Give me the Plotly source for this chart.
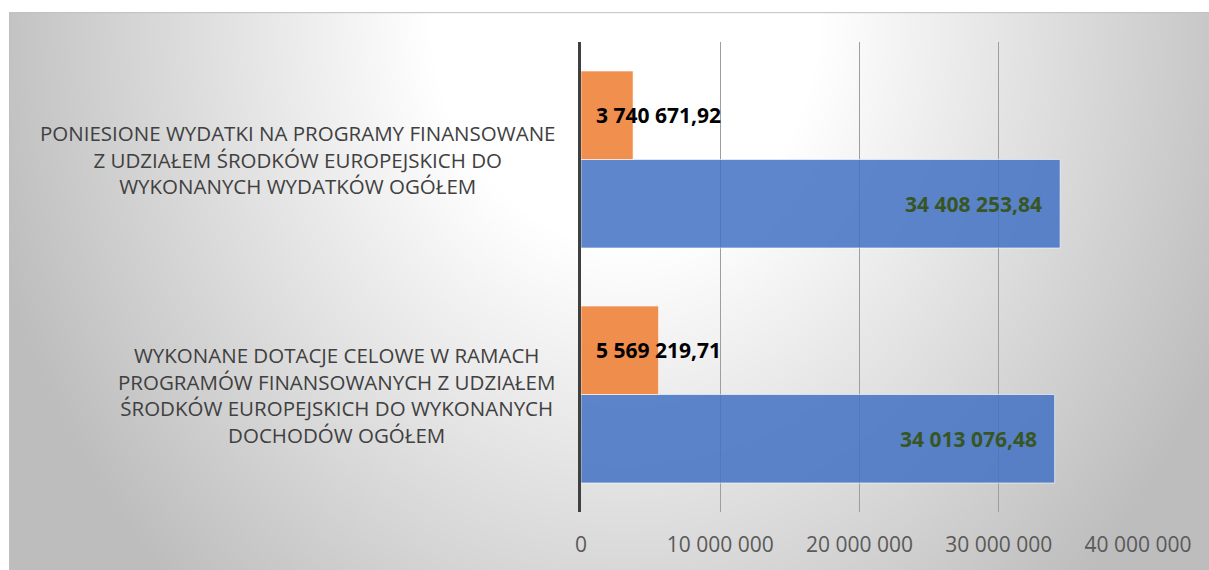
import base64
import struct
import zlib

import numpy as np
import plotly.graph_objects as go

# ---------------- data ----------------
categories = ["dotacje", "wydatki"]  # bottom -> top
category_labels = [
    "WYKONANE DOTACJE CELOWE W RAMACH<br>PROGRAMÓW FINANSOWANYCH Z UDZIAŁEM<br>ŚRODKÓW EUROPEJSKICH DO WYKONANYCH<br>DOCHODÓW OGÓŁEM",
    "PONIESIONE WYDATKI NA PROGRAMY FINANSOWANE<br>Z UDZIAŁEM ŚRODKÓW EUROPEJSKICH DO<br>WYKONANYCH WYDATKÓW OGÓŁEM",
]
total_values = [34013076.48, 34408253.84]   # blue
eu_values = [5569219.71, 3740671.92]        # orange
tick_values = [0, 10000000, 20000000, 30000000, 40000000]
tick_labels = ["0", "10 000 000", "20 000 000", "30 000 000", "40 000 000"]


def fmt(v):
    s = f"{v:,.2f}"
    return s.replace(",", " ").replace(".", ",")


# ---------------- geometry ----------------
W_FIG, H_FIG = 1209, 570
L, R, T, B = 581, 1138, 42, 515
PW, PH = R - L, B - T


def px2x(p):
    return (p - L) / PW


def py2y(p):
    return (B - p) / PH


# ---------------- background gradient (PNG data URI) ----------------
x0, y0, x1, y1 = 9, 12, 1215, 576
iw, ih = 603, 282
xs = x0 + (np.arange(iw) + 0.5) * (x1 - x0) / iw
ys = y0 + (np.arange(ih) + 0.5) * (y1 - y0) / ih
X, Y = np.meshgrid(xs, ys)
t = np.sqrt(((X - 625) / 600.0) ** 2 + ((Y - 12) / 720.0) ** 2)
g = 255 - np.clip((t - 0.33) / 0.67, 0, 1.15) * 57
img = np.clip(g, 0, 255).astype(np.uint8)


def png_gray(arr):
    h, w = arr.shape
    raw = b"".join(b"\x00" + arr[r].tobytes() for r in range(h))

    def chunk(tag, data):
        c = struct.pack(">I", len(data)) + tag + data
        return c + struct.pack(">I", zlib.crc32(tag + data) & 0xFFFFFFFF)

    return (b"\x89PNG\r\n\x1a\n"
            + chunk(b"IHDR", struct.pack(">IIBBBBB", w, h, 8, 0, 0, 0, 0))
            + chunk(b"IDAT", zlib.compress(raw, 9))
            + chunk(b"IEND", b""))


src = "data:image/png;base64," + base64.b64encode(png_gray(img)).decode()

# ---------------- figure ----------------
FONT = "Open Sans"
fig = go.Figure()
fig.add_trace(go.Bar(
    y=categories, x=total_values, orientation="h",
    marker=dict(color="rgba(68,114,196,0.86)", line=dict(color="rgba(255,255,255,0.6)", width=1)),
    hoverinfo="x", showlegend=False,
))
fig.add_trace(go.Bar(
    y=categories, x=eu_values, orientation="h",
    marker=dict(color="rgba(237,125,49,0.86)", line=dict(color="rgba(255,255,255,0.6)", width=1)),
    hoverinfo="x", showlegend=False,
))

band = PH / len(categories)
bargap = 0.247
half_bar = band * (1 - bargap) / 4

annotations = []
for c, lab in zip(categories, category_labels):
    annotations.append(dict(
        x=0, xref="paper", y=c, yref="y", xanchor="right", yanchor="middle",
        xshift=-24, text=lab, showarrow=False, align="center",
        font=dict(family=FONT, size=20.5, color="#404040"),
    ))
for c, v in zip(categories, total_values):
    annotations.append(dict(
        x=v, xref="x", y=c, yref="y", xanchor="right", yanchor="middle",
        xshift=-16, yshift=-half_bar, text="<b>" + fmt(v) + "</b>", showarrow=False,
        font=dict(family=FONT, size=21, color="#375623"),
    ))
for c, v in zip(categories, eu_values):
    annotations.append(dict(
        x=0, xref="x", y=c, yref="y", xanchor="left", yanchor="middle",
        xshift=13, yshift=half_bar, text="<b>" + fmt(v) + "</b>", showarrow=False,
        font=dict(family=FONT, size=21, color="#000000"),
    ))

fig.update_layout(
    width=W_FIG, height=H_FIG,
    margin=dict(l=L, r=W_FIG - R, t=T, b=H_FIG - B, pad=0),
    paper_bgcolor="white", plot_bgcolor="rgba(0,0,0,0)",
    barmode="group", bargap=bargap, bargroupgap=0,
    showlegend=False,
    images=[dict(
        source=src, xref="paper", yref="paper",
        x=px2x(x0), y=py2y(y0), sizex=(x1 - x0) / PW, sizey=(y1 - y0) / PH,
        xanchor="left", yanchor="top", sizing="stretch", layer="below",
    )],
    shapes=[dict(
        type="rect", xref="paper", yref="paper",
        x0=px2x(x0 + 0.5), y0=py2y(y1 + 5), x1=px2x(x1 + 5), y1=py2y(y0 + 0.5),
        line=dict(color="#bfbfbf", width=1), fillcolor="rgba(0,0,0,0)", layer="below",
    )],
    annotations=annotations,
    xaxis=dict(
        range=[0, 40000000], tickvals=tick_values, ticktext=tick_labels,
        showgrid=True, gridcolor="#9e9e9e", gridwidth=1, zeroline=False,
        showline=False, ticks="", ticklabelstandoff=18,
        tickfont=dict(family=FONT, size=21, color="#595959"),
        fixedrange=True,
    ),
    yaxis=dict(
        type="category", showticklabels=False, showgrid=False, zeroline=False,
        showline=True, linecolor="#404040", linewidth=3, ticks="",
        fixedrange=True,
    ),
)

fig.write_html(
    "out.html",
    config={"displayModeBar": False},
    post_script="document.body.style.margin='0';document.body.style.overflow='hidden';",
)
